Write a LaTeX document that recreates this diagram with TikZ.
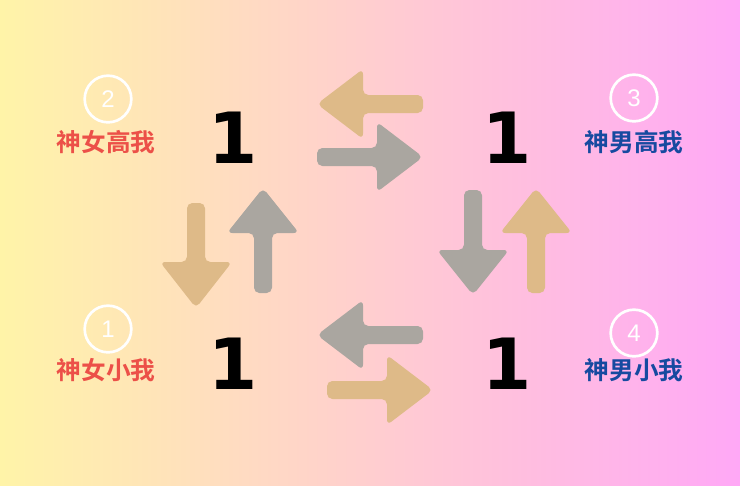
\documentclass[tikz,border=0pt]{standalone}
\usepackage{fontspec}
\setmainfont{Liberation Sans}
\newfontfamily\cjkbold{Noto Sans CJK SC Bold}
\newfontfamily\numfont{DejaVu Sans}
\begin{document}
\begin{tikzpicture}[x=0.75pt,y=-0.75pt,
  tanc/.style={fill={rgb,255:red,222;green,186;blue,136}, rounded corners=4pt},
  grayc/.style={fill={rgb,255:red,170;green,166;blue,160}, rounded corners=4pt},
  one/.style={font=\numfont\bfseries\fontsize{53}{53}\selectfont, text=black, inner sep=0pt},
  lblred/.style={font=\cjkbold\fontsize{18.5}{20}\selectfont, text={rgb,255:red,236;green,80;blue,72}, inner sep=0pt},
  lblblue/.style={font=\cjkbold\fontsize{18.5}{20}\selectfont, text={rgb,255:red,22;green,74;blue,160}, inner sep=0pt},
  ring/.style={circle, draw=white, line width=2pt, minimum size=35pt, inner sep=0pt, text=white, font=\fontsize{18}{18}\selectfont}
]
\useasboundingbox (0,0) rectangle (740,486);
\shade[left color={rgb,255:red,255;green,244;blue,168}, middle color={rgb,255:red,255;green,208;blue,198}, right color={rgb,255:red,255;green,168;blue,246}] (0,0) rectangle (740,486);

% top pair
\path[tanc] (423,95) -- (363,95) -- (363,69) -- (317,104) -- (363,139) -- (363,113) -- (423,113) -- cycle;
\path[grayc] (317,148) -- (377,148) -- (377,122) -- (423,157) -- (377,192) -- (377,166) -- (317,166) -- cycle;
% left pair
\path[tanc] (187,203) -- (187,262) -- (160,262) -- (196,308) -- (232,262) -- (205,262) -- (205,203) -- cycle;
\path[grayc] (254,293) -- (254,233) -- (227,233) -- (263,188) -- (299,233) -- (272,233) -- (272,293) -- cycle;
% right pair
\path[grayc] (464,190) -- (464,250) -- (437,250) -- (473,295) -- (509,250) -- (482,250) -- (482,190) -- cycle;
\path[tanc] (527,293) -- (527,233) -- (500,233) -- (536,188) -- (572,233) -- (545,233) -- (545,293) -- cycle;
% bottom pair
\path[grayc] (423,326) -- (363,326) -- (363,300) -- (317,335) -- (363,370) -- (363,344) -- (423,344) -- cycle;
\path[tanc] (327,381) -- (387,381) -- (387,355) -- (433,390) -- (387,425) -- (387,399) -- (327,399) -- cycle;

% ones
\node[one] (o2) at (233,138) {1};
\node[one] (o3) at (507,138) {1};
\node[one] (o1) at (233,364) {1};
\node[one] (o4) at (507,364) {1};

% rings
\node[ring] (r2) at (108,99) {2};
\node[ring] (r3) at (634,98) {3};
\node[ring] (r1) at (108,329) {1};
\node[ring] (r4) at (634,333) {4};

% labels
\node[lblred] (l2) at (106,142) {神女高我};
\node[lblblue] (l3) at (634,142) {神男高我};
\node[lblred] (l1) at (106,370) {神女小我};
\node[lblblue] (l4) at (634,370) {神男小我};
\end{tikzpicture}
\end{document}
